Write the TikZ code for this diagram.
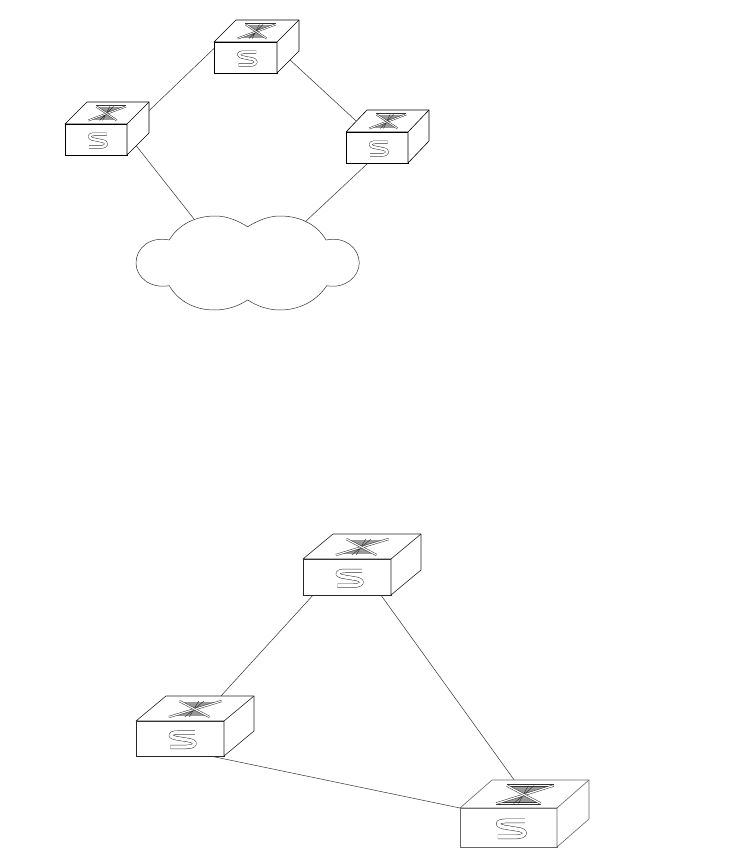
\documentclass[tikz,border=0pt]{standalone}
\usepackage{xcolor}
\usepackage{tikz}
\usetikzlibrary{backgrounds}
\tikzset{
  swfront/.style={draw, fill=white, inner sep=0pt, outer sep=0pt, line width=0.6pt, anchor=north west},
  swline/.style={line width=0.6pt, fill=white, line join=round},
  swicon/.style={black!80, line width=0.5pt, double=white, line join=round},
  link/.style={line width=0.5pt, black!80}
}
% name, left, top, width, height, depth x, depth y, icon gap, line colour
\newcommand{\switchbox}[9]{
  \node[swfront, draw=#9, minimum width=#4pt, minimum height=#5pt] (#1) at (#2,#3) {};
  \draw[swline, draw=#9] (#1.north west) -- ++(#6,-#7) -- ++(#4,0) -- ++(0,#5) -- (#1.south east) -- (#1.north east) -- cycle;
  \draw[line width=0.6pt, draw=#9] (#1.north east) -- ++(#6,-#7);
  \begin{scope}[x={(#4pt,0pt)}, y={(#6pt,#7pt)}, shift={(#1.north west)}]
    \fill[black!40] (0.22,0.8) -- (0.70,0.8) -- (0.32,0.16) -- (0.78,0.16) -- cycle;
    \draw[swicon, double distance=0.35*#8pt] (0.22,0.8) -- (0.70,0.8) (0.32,0.16) -- (0.78,0.16);
    \draw[black!85, line width=0.4pt] (0.44,0.8) -- (0.55,0.16) (0.50,0.8) -- (0.50,0.16);
    \draw[swicon, double distance=0.35*#8pt] (0.32,0.16) -- (0.70,0.8);
    \draw[swicon, double distance=0.35*#8pt] (0.22,0.8) -- (0.78,0.16);
  \end{scope}
  \begin{scope}[x={(#4pt,0pt)}, y={(0pt,-#5pt)}, shift={(#1.north west)}]
    \draw[swicon, double distance=#8pt] (0.67,0.33) -- (0.48,0.33) .. controls (0.36,0.33) and (0.37,0.47) .. (0.48,0.50) -- (0.58,0.54) .. controls (0.70,0.57) and (0.69,0.74) .. (0.57,0.74) -- (0.39,0.74);
  \end{scope}
}

\begin{document}
\begin{tikzpicture}[x=1pt, y=-1pt]
\useasboundingbox (0,0) rectangle (731,848);

\switchbox{swleft}{65}{124}{62}{31}{22}{22}{2.4}{black}
\switchbox{swtop}{214}{42}{63}{31}{22}{22}{2.4}{black}
\switchbox{swright}{346}{132}{62}{31}{21}{22}{2.4}{black}

\switchbox{bigtop}{303}{559}{88}{36}{30}{25}{3.2}{black!85}
\switchbox{bigleft}{136}{721}{88}{35}{30}{25}{3.2}{black!85}
\switchbox{bigright}{460}{808}{97}{39}{32}{28}{3.5}{black!60}

% cloud
\draw[line width=0.5pt, black!80, fill=white] (169.3,240) .. controls (178,225) and (195,216) .. (215,216)
  .. controls (228,216) and (238,221) .. (247.7,226.7)
  .. controls (257,221) and (268,216) .. (280,216)
  .. controls (302,216) and (318,226) .. (326,240)
  .. controls (345,236) and (359,248) .. (359.3,263)
  .. controls (359,277) and (345,289) .. (326.7,285.7)
  .. controls (316,302) and (298,310) .. (280,310)
  .. controls (268,310) and (257,306) .. (247.7,300)
  .. controls (238,306) and (228,310) .. (214,310)
  .. controls (195,310) and (178,301) .. (169.3,285.7)
  .. controls (150,289) and (136,277) .. (136,263)
  .. controls (136,248) and (150,236) .. (169.3,240) -- cycle;
\coordinate (cloudleft) at (194,219);
\coordinate (cloudright) at (305,222);

\begin{scope}[on background layer]
  \draw[link] (swleft.14) -- (swtop.164);
  \draw[link] (swtop.17) -- (swright.120);
  \draw[link] (swleft.10) -- (cloudleft);
  \draw[link] (swright.240) -- (cloudright);
  \draw[link] (bigtop.208) -- (bigleft.44);
  \draw[link] (bigtop.332) -- (bigright.37);
  \draw[link] (bigleft.330) -- (bigright.north west);
\end{scope}
\end{tikzpicture}
\end{document}
